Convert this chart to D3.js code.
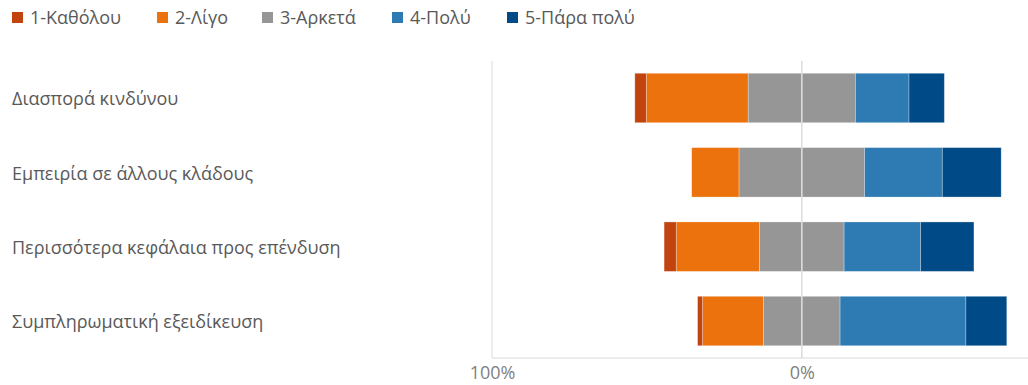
<!DOCTYPE html>
<html>
<head>
<meta charset="utf-8">
<script src="https://cdn.jsdelivr.net/npm/d3@7"></script>
<style>
  html, body { margin: 0; padding: 0; background: #fff; }
  svg { display: block; font-family: "Open Sans", "Noto Sans", sans-serif; }
</style>
</head>
<body>
<svg id="chart" width="1028" height="385"></svg>
<script>
// Survey items and answer levels
const categories = [
  "Διασπορά κινδύνου",
  "Εμπειρία σε άλλους κλάδους",
  "Περισσότερα κεφάλαια προς επένδυση",
  "Συμπληρωματική εξειδίκευση"
];
const levels = ["1-Καθόλου", "2-Λίγο", "3-Αρκετά", "4-Πολύ", "5-Πάρα πολύ"];

// Share of answers per level (percent), one array per level, in category order
const level1 = [3.7, 0.0, 3.9, 1.6];
const level2 = [32.9, 15.3, 26.9, 19.7];
const level3 = [34.6, 40.5, 27.3, 24.7];
const level4 = [17.3, 25.1, 24.7, 40.6];
const level5 = [11.4, 19.0, 17.2, 13.2];

const tickValues = [-100, 0];

const colors = ["#C1440E", "#EB720C", "#969696", "#2E7BB4", "#004B87"];

const svg = d3.select("#chart");
const W = 1028;

const x = d3.scaleLinear().domain([-100, 73]).range([492, 1028]);
const y = d3.scaleBand().domain(categories).range([61, 358])
  .paddingInner(0.335).paddingOuter(0.165);

// Build diverging segments: neutral level split evenly around zero
const series = [level1, level2, level3, level4, level5];
const segments = [];
categories.forEach((c, i) => {
  const v = series.map(s => s[i]);
  const half = v[2] / 2;
  let left = -half;
  segments.push({ c, k: 1, x0: left - v[1], x1: left });
  left -= v[1];
  segments.push({ c, k: 0, x0: left - v[0], x1: left });
  segments.push({ c, k: 2, x0: -half, x1: 0 });
  segments.push({ c, k: 2, x0: 0, x1: half });
  let right = half;
  segments.push({ c, k: 3, x0: right, x1: right + v[3] });
  right += v[3];
  segments.push({ c, k: 4, x0: right, x1: right + v[4] });
});

// Gridline at -100%
svg.append("line")
  .attr("x1", x(-100)).attr("x2", x(-100))
  .attr("y1", 61).attr("y2", 358)
  .attr("stroke", "#d9d9d9").attr("stroke-width", 1);

// Bars
svg.append("g").selectAll("rect")
  .data(segments.filter(d => d.x1 - d.x0 > 0))
  .join("rect")
  .attr("x", d => x(d.x0))
  .attr("width", d => x(d.x1) - x(d.x0))
  .attr("y", d => y(d.c))
  .attr("height", y.bandwidth())
  .attr("fill", d => colors[d.k])
  .attr("stroke", "#ffffff")
  .attr("stroke-opacity", 0.35)
  .attr("stroke-width", 0.8);

// Zero line drawn over the neutral segments
svg.append("line")
  .attr("x1", x(0)).attr("x2", x(0))
  .attr("y1", 61).attr("y2", 358)
  .attr("stroke", "#dcdcdc").attr("stroke-width", 1.5);

// Bottom axis
const xAxis = d3.axisBottom(x)
  .tickValues(tickValues)
  .tickSize(0)
  .tickPadding(8)
  .tickFormat(d => Math.abs(d) + "%");
const gx = svg.append("g").attr("transform", "translate(0,358)").call(xAxis);
gx.select(".domain").attr("stroke", "#d9d9d9").attr("d", `M${x(-100)},0H${W}`);
gx.selectAll("text").attr("fill", "#7f7f7f").attr("font-size", 18)
  .attr("font-family", "Open Sans, sans-serif");

// Category labels
svg.append("g").selectAll("text")
  .data(categories)
  .join("text")
  .attr("x", 12)
  .attr("y", d => y(d) + y.bandwidth() / 2 + 1)
  .attr("dy", "0.35em")
  .attr("fill", "#595959")
  .attr("font-size", 18)
  .text(d => d);

// Legend
const legendX = [12, 157, 262, 392, 507];
const lg = svg.append("g").selectAll("g")
  .data(levels)
  .join("g")
  .attr("transform", (d, i) => `translate(${legendX[i]},18)`);
lg.append("rect").attr("x", 0).attr("y", -6).attr("width", 11).attr("height", 11)
  .attr("fill", (d, i) => colors[i]);
lg.append("text").attr("x", 18).attr("y", 0).attr("dy", "0.35em")
  .attr("fill", "#595959").attr("font-size", 18).text(d => d);
</script>
</body>
</html>
